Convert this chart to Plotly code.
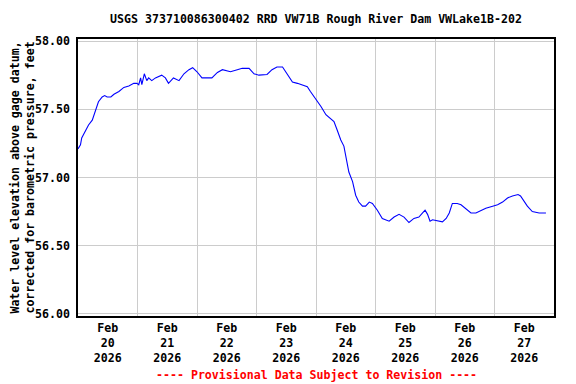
import plotly.graph_objects as go

# ---- data ----
times = [
    "2026-02-20 00:00", "2026-02-20 01:00", "2026-02-20 01:30", "2026-02-20 03:00",
    "2026-02-20 04:15", "2026-02-20 05:45", "2026-02-20 07:00", "2026-02-20 08:15",
    "2026-02-20 09:45", "2026-02-20 10:45", "2026-02-20 11:45", "2026-02-20 13:15",
    "2026-02-20 14:30", "2026-02-20 16:30", "2026-02-20 18:30", "2026-02-20 20:30",
    "2026-02-20 22:30", "2026-02-20 23:45", "2026-02-21 00:30", "2026-02-21 01:15",
    "2026-02-21 01:45", "2026-02-21 02:45", "2026-02-21 03:45", "2026-02-21 04:30",
    "2026-02-21 05:45", "2026-02-21 07:15", "2026-02-21 09:45", "2026-02-21 11:15",
    "2026-02-21 12:30", "2026-02-21 14:30", "2026-02-21 16:45", "2026-02-21 18:45",
    "2026-02-21 20:45", "2026-02-21 22:15", "2026-02-22 00:00", "2026-02-22 02:00",
    "2026-02-22 06:00", "2026-02-22 08:15", "2026-02-22 10:15", "2026-02-22 13:30",
    "2026-02-22 16:15", "2026-02-22 18:15", "2026-02-22 21:00", "2026-02-22 23:00",
    "2026-02-23 01:00", "2026-02-23 04:15", "2026-02-23 06:15", "2026-02-23 08:15",
    "2026-02-23 10:30", "2026-02-23 11:45", "2026-02-23 14:30", "2026-02-23 16:30",
    "2026-02-23 18:30", "2026-02-23 20:30", "2026-02-23 21:45", "2026-02-23 23:45",
    "2026-02-24 02:00", "2026-02-24 04:00", "2026-02-24 06:00", "2026-02-24 07:15",
    "2026-02-24 08:30", "2026-02-24 10:00", "2026-02-24 11:15", "2026-02-24 12:00",
    "2026-02-24 13:15", "2026-02-24 14:45", "2026-02-24 16:00", "2026-02-24 17:15",
    "2026-02-24 18:45", "2026-02-24 20:00", "2026-02-24 21:30", "2026-02-24 22:45",
    "2026-02-25 00:45", "2026-02-25 02:45", "2026-02-25 05:30", "2026-02-25 07:30",
    "2026-02-25 09:30", "2026-02-25 11:30", "2026-02-25 13:30", "2026-02-25 15:30",
    "2026-02-25 17:30", "2026-02-25 19:00", "2026-02-25 20:00", "2026-02-25 21:00",
    "2026-02-25 22:00", "2026-02-25 23:00", "2026-02-26 01:00", "2026-02-26 03:00",
    "2026-02-26 04:30", "2026-02-26 05:45", "2026-02-26 07:00", "2026-02-26 09:00",
    "2026-02-26 10:30", "2026-02-26 12:30", "2026-02-26 14:30", "2026-02-26 16:30",
    "2026-02-26 18:30", "2026-02-26 20:30", "2026-02-26 23:15", "2026-02-27 01:15",
    "2026-02-27 03:15", "2026-02-27 05:15", "2026-02-27 07:15", "2026-02-27 09:30",
    "2026-02-27 10:30", "2026-02-27 12:00", "2026-02-27 13:15", "2026-02-27 15:15",
    "2026-02-27 18:00", "2026-02-27 20:45",
]
water_level = [
    57.21, 57.24, 57.29, 57.34,
    57.385, 57.42, 57.49, 57.555,
    57.59, 57.60, 57.59, 57.59,
    57.61, 57.63, 57.66, 57.67,
    57.69, 57.69, 57.68, 57.73,
    57.68, 57.76, 57.71, 57.73,
    57.71, 57.73, 57.75, 57.73,
    57.69, 57.73, 57.71, 57.76,
    57.79, 57.805, 57.775, 57.73,
    57.73, 57.77, 57.79, 57.775,
    57.79, 57.80, 57.80, 57.76,
    57.75, 57.755, 57.79, 57.81,
    57.81, 57.775, 57.70, 57.69,
    57.68, 57.665, 57.63, 57.58,
    57.52, 57.46, 57.43, 57.41,
    57.35, 57.275, 57.23, 57.15,
    57.04, 56.97, 56.87, 56.82,
    56.79, 56.79, 56.82, 56.81,
    56.76, 56.70, 56.68, 56.71,
    56.73, 56.71, 56.67, 56.70,
    56.71, 56.74, 56.76, 56.73,
    56.68, 56.69, 56.68, 56.675,
    56.70, 56.74, 56.81, 56.81,
    56.80, 56.77, 56.74, 56.74,
    56.76, 56.775, 56.79, 56.80,
    56.82, 56.85, 56.865, 56.875,
    56.865, 56.82, 56.79, 56.75,
    56.74, 56.74,
]

title_text = "USGS 373710086300402 RRD VW71B Rough River Dam VWLake1B-202"
y_title = "Water level elevation above gage datum,<br>corrected for barometric pressure, feet"
footer = "---- Provisional Data Subject to Revision ----"

FONT = "DejaVu Sans Mono"
FS = 11.6

# page body has an 8px default margin; compensate so the figure lands on the 576x384 window
W, H = 568, 376

fig = go.Figure()
fig.add_trace(go.Scatter(
    x=times, y=water_level, mode="lines",
    line=dict(color="#0000ff", width=1.1),
    showlegend=False, hoverinfo="x+y",
))

fig.update_layout(
    width=W, height=H,
    margin=dict(l=70, r=22, t=31, b=68, autoexpand=False),
    paper_bgcolor="white", plot_bgcolor="white",
    font=dict(family=FONT, size=FS, color="black", weight="bold"),
    title=dict(text=title_text, x=0.5, xref="paper", xanchor="center",
               y=1 - 11 / H, yref="container", yanchor="middle",
               font=dict(family=FONT, size=FS, color="black", weight="bold")),
    showlegend=False,
)

fig.update_xaxes(
    type="date",
    range=["2026-02-20 00:00", "2026-02-28 00:00"],
    tick0="2026-02-20", dtick=86400000,
    ticklabelmode="period",
    tickformat="%b<br>%d<br>%Y",
    ticks="", showgrid=True, gridcolor="#cccccc", gridwidth=1,
    showline=True, linecolor="black", linewidth=1.5, mirror=True,
    zeroline=False,
    tickfont=dict(family=FONT, size=FS, color="black", weight="bold"),
)

fig.update_yaxes(
    range=[55.985, 58.015],
    tick0=56, dtick=0.5, tickformat=".2f",
    ticks="", showgrid=True, gridcolor="#cccccc", gridwidth=1,
    showline=True, linecolor="black", linewidth=1.5, mirror=True,
    zeroline=False,
    ticklabelstandoff=4,
    title=dict(text=y_title, standoff=4,
               font=dict(family=FONT, size=FS, color="black", weight="bold")),
    tickfont=dict(family=FONT, size=FS, color="black", weight="bold"),
)

fig.add_annotation(
    text=footer, xref="paper", yref="paper", x=0.5, y=-(375 - 316) / 277,
    xanchor="center", yanchor="middle", showarrow=False,
    font=dict(family=FONT, size=FS, color="red", weight="bold"),
)

fig.write_html("out.html")
